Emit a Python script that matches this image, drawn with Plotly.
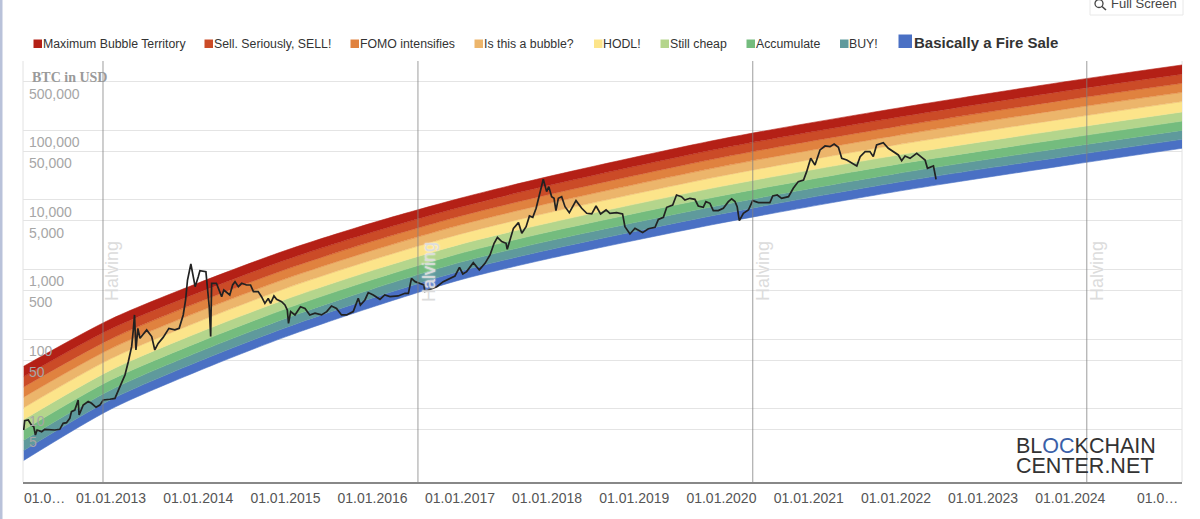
import datetime as dt
import plotly.graph_objects as go

W, H = 1200, 519

# ---------- data ----------
band_names = ["Maximum Bubble Territory", "Sell. Seriously, SELL!", "FOMO intensifies",
              "Is this a bubble?", "HODL!", "Still cheap", "Accumulate", "BUY!",
              "Basically a Fire Sale"]
band_colors = ["#B42016", "#CB4B27", "#E0823F", "#ECB56B", "#FCE48A",
               "#B4D58C", "#74BC7E", "#5F9A9C", "#4A70C4"]

knot_dates = ["2012-01-01", "2013-01-01", "2014-01-01", "2015-01-01", "2016-01-01", "2017-01-01",
              "2018-01-01", "2020-01-01", "2022-01-01", "2024-01-01", "2025-04-13"]
edge_0 = [40.8, 195, 641, 1880, 4699, 10570, 21500, 75200, 207000, 513000, 871000]
edge_1 = [29.0, 141, 466, 1372, 3459, 7850, 16000, 55300, 153000, 378000, 642000]
edge_2 = [20.6, 101, 338, 1002, 2547, 5830, 11800, 40800, 113000, 279000, 475000]
edge_3 = [14.7, 73.5, 247, 736, 1884, 4360, 8830, 30200, 83900, 207000, 352000]
edge_4 = [10.35, 52.6, 178, 535, 1380, 3220, 6500, 22100, 61800, 151000, 259000]
edge_5 = [7.01, 36.2, 124, 373, 975, 2300, 4630, 15700, 43800, 107000, 184000]
edge_6 = [4.98, 26.1, 89.9, 273, 718, 1710, 3440, 11500, 32400, 78900, 136000]
edge_7 = [3.53, 18.8, 65.3, 199, 528, 1270, 2550, 8490, 23900, 58200, 100000]
edge_8 = [2.52, 13.6, 47.6, 146, 391, 948, 1900, 6300, 17800, 43200, 74300]
edge_9 = [1.81, 9.93, 34.9, 108, 290, 710, 1420, 4680, 13200, 32100, 55300]

btc_year = [
    2012.002, 2012.013, 2012.052, 2012.09, 2012.117, 2012.136, 2012.155, 2012.205, 2012.243, 2012.30,
    2012.357, 2012.415, 2012.453, 2012.491, 2012.53, 2012.549, 2012.587, 2012.625, 2012.636, 2012.682,
    2012.74, 2012.778, 2012.828, 2012.873, 2012.912, 2012.988, 2013.045, 2013.103, 2013.16, 2013.198,
    2013.237, 2013.256, 2013.271, 2013.286, 2013.309, 2013.332, 2013.409, 2013.466, 2013.504, 2013.542,
    2013.6, 2013.665, 2013.734, 2013.783, 2013.829, 2013.856, 2013.879, 2013.917, 2013.936, 2013.967,
    2014.001, 2014.02, 2014.089, 2014.104, 2014.127, 2014.143, 2014.154, 2014.21, 2014.27, 2014.295,
    2014.364, 2014.396, 2014.422, 2014.461, 2014.499, 2014.556, 2014.602, 2014.633, 2014.69, 2014.728,
    2014.766, 2014.805, 2014.831, 2014.87, 2014.9, 2014.957, 2014.996, 2015.022, 2015.038, 2015.061,
    2015.11, 2015.175, 2015.225, 2015.282, 2015.34, 2015.416, 2015.474, 2015.531, 2015.588, 2015.646,
    2015.703, 2015.779, 2015.837, 2015.863, 2015.913, 2015.951, 2016.009, 2016.085, 2016.142, 2016.2,
    2016.295, 2016.372, 2016.41, 2016.448, 2016.487, 2016.536, 2016.59, 2016.6, 2016.735, 2016.81,
    2016.888, 2016.945, 2016.995, 2017.033, 2017.079, 2017.156, 2017.224, 2017.289, 2017.347, 2017.393,
    2017.431, 2017.48, 2017.53, 2017.545, 2017.614, 2017.672, 2017.71, 2017.76, 2017.798, 2017.836,
    2017.874, 2017.912, 2017.958, 2017.997, 2018.02, 2018.054, 2018.081, 2018.104, 2018.13, 2018.169,
    2018.207, 2018.256, 2018.333, 2018.398, 2018.455, 2018.513, 2018.562, 2018.616, 2018.677, 2018.723,
    2018.8, 2018.868, 2018.895, 2018.952, 2019.01, 2019.098, 2019.162, 2019.239, 2019.277, 2019.335,
    2019.373, 2019.442, 2019.487, 2019.545, 2019.583, 2019.64, 2019.697, 2019.736, 2019.793, 2019.823,
    2019.869, 2019.908, 2019.965, 2020.022, 2020.08, 2020.118, 2020.156, 2020.183, 2020.206, 2020.252,
    2020.309, 2020.359, 2020.424, 2020.5, 2020.557, 2020.588, 2020.642, 2020.691, 2020.768, 2020.825,
    2020.882, 2020.94, 2020.978, 2021.024, 2021.073, 2021.131, 2021.188, 2021.246, 2021.291, 2021.341,
    2021.379, 2021.437, 2021.494, 2021.551, 2021.59, 2021.647, 2021.704, 2021.742, 2021.78, 2021.857,
    2021.914, 2021.972, 2022.029, 2022.067, 2022.105, 2022.163, 2022.239, 2022.297, 2022.335, 2022.362,
    2022.431, 2022.461]
btc_usd = [
    4.96, 6.75, 6.9, 5.85, 5.53, 4.2, 4.96, 4.69, 5.07, 4.96,
    4.96, 5.07, 6.18, 6.32, 7.3, 9.1, 9.6, 13.4, 8.15, 11.3,
    12.7, 12.0, 10.5, 11.3, 13.4, 13.7, 14.1, 20.8, 30.6, 47.5,
    78, 136, 223, 70, 143, 103, 136, 109, 70, 87,
    106, 143, 136, 143, 223, 366, 708, 1202, 883, 568,
    791, 966, 934, 635, 293, 109, 635, 635, 408, 509,
    432, 601, 671, 568, 635, 601, 601, 482, 482, 408,
    327, 386, 327, 418, 374, 346, 310, 262, 169, 249,
    223, 293, 277, 223, 236, 223, 249, 300, 277, 223,
    223, 249, 386, 310, 366, 467, 432, 374, 432, 408,
    418, 456, 456, 748, 671, 635, 601, 482, 568, 671,
    750, 809, 1079, 865, 935, 1259, 989, 1230, 1622, 2388,
    2911, 2523, 2388, 1954, 3917, 4732, 3319, 4140, 5888, 5636,
    7603, 11170, 19820, 13180, 15560, 11170, 10570, 7030, 10570, 11170,
    8020, 6580, 9790, 7600, 6440, 6300, 8200, 6300, 7190, 6440,
    6580, 6300, 4140, 3250, 3920, 3400, 3870, 4050, 5270, 5640,
    7850, 8470, 11800, 11170, 10000, 10570, 10230, 8200, 7850, 9470,
    8960, 7030, 7030, 7600, 9470, 10350, 9470, 8020, 5050, 6440,
    7180, 9790, 9160, 9160, 9160, 11430, 11800, 10570, 11170, 14720,
    18370, 19410, 25530, 39700, 31840, 52360, 59700, 58480, 63830, 57150,
    39700, 37580, 34430, 30830, 41970, 49550, 49550, 41970, 61660, 66680,
    55340, 49550, 44360, 36730, 42850, 39700, 46880, 41020, 37580, 28510,
    30830, 19820]

halving_dates = ["2012-11-28", "2016-07-09", "2020-05-11", "2024-03-10"]
y_ticks = [5, 10, 50, 100, 500, 1000, 5000, 10000, 50000, 100000, 500000]
y_tick_text = ["5", "10", "50", "100", "500", "1,000", "5,000", "10,000", "50,000", "100,000", "500,000"]
x_tick_dates = ["2013-01-01", "2014-01-01", "2015-01-01", "2016-01-01", "2017-01-01", "2018-01-01",
                "2019-01-01", "2020-01-01", "2021-01-01", "2022-01-01", "2023-01-01", "2024-01-01",
                "2025-01-01"]
x_tick_text = ["01.01.2013", "01.01.2014", "01.01.2015", "01.01.2016", "01.01.2017", "01.01.2018",
               "01.01.2019", "01.01.2020", "01.01.2021", "01.01.2022", "01.01.2023", "01.01.2024",
               "01.0…"]


def year_to_date(y):
    yr = int(y)
    start = dt.datetime(yr, 1, 1)
    span = (dt.datetime(yr + 1, 1, 1) - start).days
    return (start + dt.timedelta(days=(y - yr) * span)).strftime("%Y-%m-%d")


def px(x):
    return x / W


def py(y):
    return 1 - y / H


# ---------- figure ----------
fig = go.Figure()
edges = [edge_0, edge_1, edge_2, edge_3, edge_4, edge_5, edge_6, edge_7, edge_8, edge_9]
for i, e in enumerate(edges):
    if i == 0:
        fig.add_trace(go.Scatter(x=knot_dates, y=e, mode="lines", showlegend=False, hoverinfo="skip",
                                 line=dict(width=0.6, color=band_colors[0], shape="spline", smoothing=0.8)))
    else:
        c = band_colors[i - 1]
        fig.add_trace(go.Scatter(x=knot_dates, y=e, mode="lines", name=band_names[i - 1], showlegend=False,
                                 fill="tonexty", fillcolor=c,
                                 line=dict(width=0.6, color=c, shape="spline", smoothing=0.8)))

fig.add_trace(go.Scatter(x=[year_to_date(v) for v in btc_year], y=btc_usd, mode="lines", name="BTC",
                         showlegend=False, line=dict(color="#222222", width=1.7)))

shapes = []
for d in halving_dates:
    shapes.append(dict(type="line", xref="x", yref="paper", x0=d, x1=d, y0=py(482), y1=py(61),
                       line=dict(color="rgba(130,130,130,0.6)", width=1.3), layer="above"))
# plot frame and left page strip
shapes += [
    dict(type="line", xref="paper", yref="paper", x0=px(23), x1=px(23), y0=py(482), y1=py(61),
         line=dict(color="#e2e2e2", width=1), layer="below"),
    dict(type="line", xref="paper", yref="paper", x0=px(1182), x1=px(1182), y0=py(482), y1=py(61),
         line=dict(color="#e2e2e2", width=1), layer="below"),
    dict(type="rect", xref="paper", yref="paper", x0=0, x1=px(2.5), y0=0, y1=1,
         fillcolor="#B9C2DA", line=dict(width=0)),
    # full screen button
    dict(type="rect", xref="paper", yref="paper", x0=px(1090), x1=px(1183), y0=py(15), y1=py(-3),
         fillcolor="white", line=dict(color="#e8e8e8", width=1)),
    dict(type="circle", xref="paper", yref="paper", x0=px(1095), x1=px(1103), y0=py(7.5), y1=py(-0.5),
         line=dict(color="#444", width=1.3)),
    dict(type="line", xref="paper", yref="paper", x0=px(1102), x1=px(1106), y0=py(6.5), y1=py(10),
         line=dict(color="#444", width=1.6)),
]

annotations = []
legend_layout = [(33.5, 40.5, 8.5), (204.5, 211.5, 8.5), (350.5, 357.5, 8.5), (474.5, 481.5, 8.5), (594, 600.5, 8.5),
                 (660.5, 667.5, 8.5), (746.5, 753.5, 8.5), (840, 847, 8.5), (898.5, 911.5, 13.5)]
for name, col, (sq, tx, s) in zip(band_names, band_colors, legend_layout):
    shapes.append(dict(type="rect", xref="paper", yref="paper", x0=px(sq), x1=px(sq + s),
                       y0=py(48), y1=py(48 - s), fillcolor=col, line=dict(width=0)))
    big = s > 10
    annotations.append(dict(xref="paper", yref="paper", x=px(tx), y=py(44.2 if not big else 42.5), xanchor="left",
                            yanchor="middle", showarrow=False,
                            text=f"<b>{name}</b>" if big else name,
                            font=dict(family="Liberation Sans", size=15 if big else 12.3,
                                      color="#333333")))

for d, xc in zip(halving_dates, [111.5, 428.5, 762.5, 1096.5]):
    annotations.append(dict(xref="paper", yref="paper", x=px(xc), y=py(271.5), xanchor="center", yanchor="middle",
                            showarrow=False, text="Halving", textangle=-90,
                            font=dict(family="Liberation Sans", size=18, color="#dcdcdc", shadow="0 0 2px #fff")))

annotations += [
    dict(xref="paper", yref="paper", x=px(30), y=py(77), xanchor="left", yanchor="middle", showarrow=False,
         text="<b>BTC in USD</b>", font=dict(family="Liberation Serif", size=14, color="#9a9a9a")),
    dict(xref="paper", yref="paper", x=px(22), y=py(498), xanchor="left", yanchor="middle", showarrow=False,
         text="01.0…", font=dict(family="Liberation Sans", size=14, color="#555555")),
    dict(xref="paper", yref="paper", x=px(1109), y=py(3), xanchor="left", yanchor="middle", showarrow=False,
         text="Full Screen", font=dict(family="Liberation Sans", size=13, color="#444444")),
    dict(xref="paper", yref="paper", x=px(1014), y=py(445.5), xanchor="left", yanchor="middle", showarrow=False,
         text="BL<span style='color:#3A60A8'>OC</span>KCHAIN",
         font=dict(family="Liberation Sans", size=21.5, color="#333333")),
    dict(xref="paper", yref="paper", x=px(1014), y=py(465.5), xanchor="left", yanchor="middle", showarrow=False,
         text="CENTER.NET", font=dict(family="Liberation Sans", size=21.5, color="#333333")),
]

fig.update_layout(
    width=W, height=H, margin=dict(l=0, r=0, t=0, b=0, autoexpand=False),
    paper_bgcolor="white", plot_bgcolor="white", showlegend=False,
    shapes=shapes, annotations=annotations,
    xaxis=dict(type="date", domain=[px(23), px(1182)], range=["2011-12-29", "2025-04-13"],
               tickmode="array", tickvals=x_tick_dates, ticktext=x_tick_text, showgrid=False,
               showline=True, linecolor="#888888", linewidth=2, ticks="", ticklabelstandoff=2,
               tickfont=dict(family="Liberation Sans", size=14, color="#555555"), tickangle=0, zeroline=False),
    yaxis=dict(type="log", domain=[py(482), py(61)], range=[-0.052, 5.997],
               tickmode="array", tickvals=y_ticks, ticktext=y_tick_text,
               ticklabelposition="inside", ticklabelshift=12, ticklabelstandoff=3,
               showgrid=True, gridcolor="#e4e4e4", gridwidth=1.3, showline=False, ticks="", zeroline=False,
               tickfont=dict(family="Liberation Sans", size=14, color="#a6a6a6")),
)

fig.write_html("out.html", config={"displayModeBar": False},
               post_script="document.body.style.margin='0';document.body.style.overflow='hidden';")
